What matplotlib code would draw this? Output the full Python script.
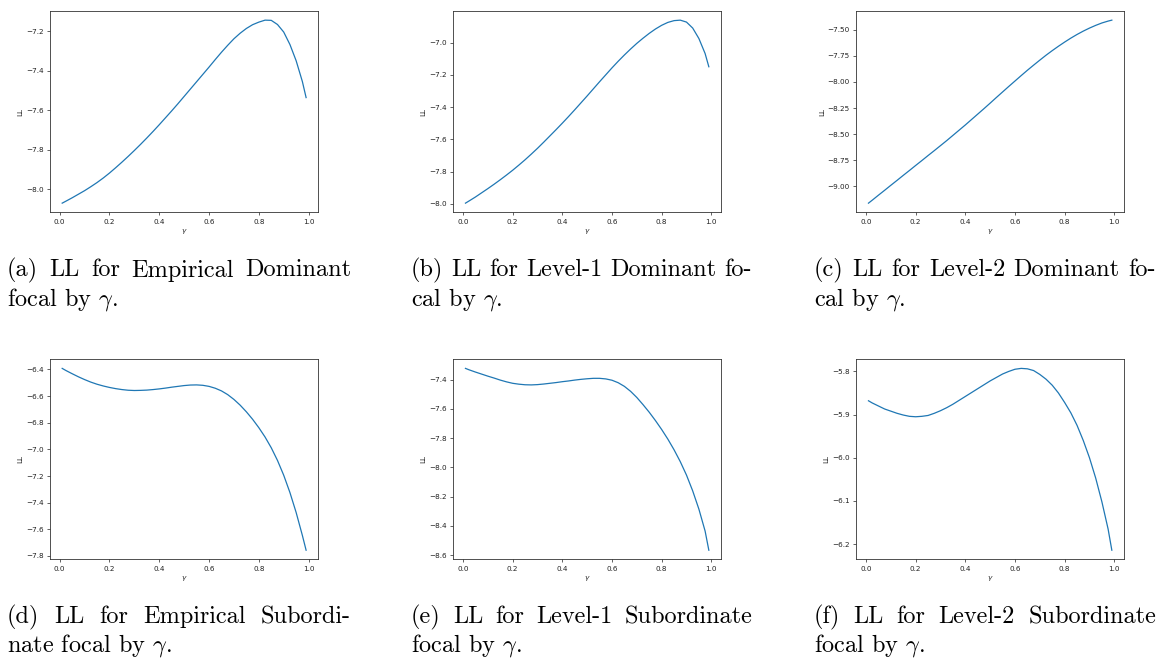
import matplotlib
matplotlib.use("Agg")
import matplotlib.pyplot as plt
from matplotlib.ticker import MultipleLocator

W, H = 1164, 658

# ---------------- data ----------------
gamma = [0.01, 0.025, 0.05, 0.075, 0.10, 0.125, 0.15, 0.175, 0.20, 0.225,
         0.25, 0.275, 0.30, 0.325, 0.35, 0.375, 0.40, 0.425, 0.45, 0.475,
         0.50, 0.525, 0.55, 0.575, 0.60, 0.625, 0.65, 0.675, 0.70, 0.725,
         0.75, 0.775, 0.80, 0.825, 0.85, 0.875, 0.90, 0.925, 0.95, 0.975, 0.99]

ll_emp_dom = [-8.069, -8.059, -8.042, -8.024, -8.006, -7.986, -7.965, -7.942,
              -7.917, -7.890, -7.862, -7.833, -7.803, -7.772, -7.740, -7.707,
              -7.673, -7.638, -7.603, -7.567, -7.530, -7.493, -7.456, -7.419,
              -7.382, -7.344, -7.307, -7.272, -7.239, -7.211, -7.187, -7.168,
              -7.155, -7.145, -7.146, -7.167, -7.205, -7.268, -7.350, -7.455,
              -7.536]
ll_l1_dom = [-7.996, -7.982, -7.958, -7.932, -7.906, -7.879, -7.851, -7.822,
             -7.792, -7.760, -7.727, -7.692, -7.656, -7.618, -7.579, -7.540,
             -7.500, -7.459, -7.417, -7.374, -7.331, -7.287, -7.243, -7.200,
             -7.157, -7.116, -7.077, -7.040, -7.005, -6.973, -6.943, -6.916,
             -6.893, -6.875, -6.864, -6.861, -6.873, -6.910, -6.975, -7.068,
             -7.150]
ll_l2_dom = [-9.161, -9.133, -9.085, -9.038, -8.990, -8.943, -8.895, -8.848,
             -8.800, -8.753, -8.705, -8.658, -8.610, -8.562, -8.512, -8.462,
             -8.412, -8.360, -8.308, -8.256, -8.203, -8.149, -8.096, -8.043,
             -7.991, -7.939, -7.888, -7.839, -7.791, -7.744, -7.700, -7.658,
             -7.618, -7.580, -7.545, -7.513, -7.484, -7.458, -7.435, -7.417,
             -7.408]
ll_emp_sub = [-6.392, -6.408, -6.432, -6.455, -6.476, -6.495, -6.511, -6.524,
              -6.535, -6.544, -6.551, -6.556, -6.558, -6.557, -6.555, -6.551,
              -6.546, -6.540, -6.533, -6.527, -6.521, -6.517, -6.516, -6.519,
              -6.527, -6.541, -6.561, -6.589, -6.625, -6.668, -6.718, -6.774,
              -6.837, -6.907, -6.988, -7.083, -7.194, -7.324, -7.474, -7.646,
              -7.757]
ll_l1_sub = [-7.323, -7.333, -7.348, -7.362, -7.376, -7.389, -7.403, -7.415,
             -7.425, -7.431, -7.435, -7.436, -7.434, -7.430, -7.425, -7.420,
             -7.414, -7.409, -7.403, -7.398, -7.394, -7.391, -7.391, -7.395,
             -7.404, -7.421, -7.446, -7.480, -7.522, -7.571, -7.623, -7.680,
             -7.741, -7.807, -7.880, -7.961, -8.053, -8.161, -8.286, -8.436,
             -8.567]
ll_l2_sub = [-5.868, -5.873, -5.880, -5.887, -5.892, -5.897, -5.901, -5.904,
             -5.905, -5.904, -5.902, -5.897, -5.891, -5.884, -5.876, -5.867,
             -5.858, -5.849, -5.840, -5.831, -5.822, -5.814, -5.806, -5.800,
             -5.795, -5.793, -5.794, -5.798, -5.807, -5.818, -5.832, -5.850,
             -5.872, -5.896, -5.925, -5.960, -6.000, -6.047, -6.102, -6.165,
             -6.214]

series = [ll_emp_dom, ll_l1_dom, ll_l2_dom, ll_emp_sub, ll_l1_sub, ll_l2_sub]
y_steps = [0.2, 0.2, 0.25, 0.2, 0.2, 0.1]

caption_line1 = [
    "(a) LL for Empirical Dominant",
    "(b) LL for Level-1 Dominant fo-",
    "(c) LL for Level-2 Dominant fo-",
    "(d) LL for Empirical Subordi-",
    "(e) LL for Level-1 Subordinate",
    "(f) LL for Level-2 Subordinate",
]
caption_line2 = [
    r"focal by $\gamma$.",
    r"cal by $\gamma$.",
    r"cal by $\gamma$.",
    r"nate focal by $\gamma$.",
    r"focal by $\gamma$.",
    r"focal by $\gamma$.",
]
x_label = r"$\gamma$"
y_label = "LL"

# ---------------- layout (pixels) ----------------
col_axes = [(50, 318.3), (453.3, 721), (856.3, 1124)]
row_axes = [(11, 212.3), (359.3, 559.3)]
col_caption = [(7, 351), (411, 752), (814, 1156)]
row_caption = [(276.5, 305.5), (623, 651.5)]

fig = plt.figure(figsize=(W / 100, H / 100), dpi=100)
fig.patch.set_facecolor("white")

TICK_FS = 5.2
CAP_FS = 17.5

for i, ys in enumerate(series):
    r, c = divmod(i, 3)
    l, rr = col_axes[c]
    t, b = row_axes[r]
    ax = fig.add_axes([l / W, 1 - b / H, (rr - l) / W, (b - t) / H])
    ax.plot(gamma, ys, color="#1f77b4", lw=0.9)
    ax.xaxis.set_major_locator(MultipleLocator(0.2))
    ax.yaxis.set_major_locator(MultipleLocator(y_steps[i]))
    ax.tick_params(labelsize=TICK_FS, length=2.4, width=0.5, pad=2.2,
                   colors="#222222")
    for sp in ax.spines.values():
        sp.set_linewidth(0.6)
        sp.set_color("#333333")
    ax.set_xlabel(x_label, fontsize=TICK_FS, labelpad=2.0,
                  math_fontfamily="dejavusans", color="#222222")
    ax.set_ylabel(y_label, fontsize=TICK_FS, labelpad=2.0, color="#222222")

# ---------------- captions (justified first line) ----------------
renderer = fig.canvas.get_renderer()
for i in range(6):
    r, c = divmod(i, 3)
    x0, x1 = col_caption[c]
    yb1, yb2 = row_caption[r]
    words = caption_line1[i].split(" ")
    texts = []
    for w in words:
        tx = fig.text(0, 1 - yb1 / H, w, family="cmr10", fontsize=CAP_FS,
                      va="baseline", ha="left")
        texts.append(tx)
    widths = [tx.get_window_extent(renderer=renderer).width for tx in texts]
    gap = ((x1 - x0) - sum(widths)) / (len(words) - 1)
    xpos = x0
    for tx, wd in zip(texts, widths):
        tx.set_x(xpos / W)
        xpos += wd + gap
    fig.text(x0 / W, 1 - yb2 / H, caption_line2[i], family="cmr10",
             fontsize=CAP_FS, va="baseline", ha="left", math_fontfamily="cm")

fig.savefig("out.png", dpi=100, facecolor="white")
